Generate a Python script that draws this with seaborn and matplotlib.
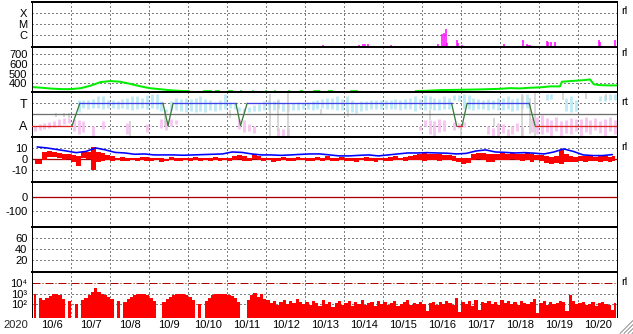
import numpy as np
import matplotlib
matplotlib.use('Agg')
import matplotlib.pyplot as plt
import seaborn as sns
from matplotlib.lines import Line2D

sns.set_theme(style='white')
plt.rcParams['font.family'] = ['Liberation Sans', 'DejaVu Sans']

# ---------------- data ----------------
year_label = '2020'
day_labels = ['10/6', '10/7', '10/8', '10/9', '10/10', '10/11', '10/12', '10/13',
              '10/14', '10/15', '10/16', '10/17', '10/18', '10/19', '10/20']

# X-ray flare bars (days since 10/6 00UT, log10 flux W/m2)
xray_t = [7.46, 8.38, 8.47, 8.53, 8.62, 9.16, 9.21, 10.41, 10.51, 10.55, 10.62, 10.64,
          10.88, 10.91, 11.02, 12.10, 12.55, 12.59, 12.68, 12.72, 12.76, 13.19, 13.22,
          13.29, 13.41, 14.54, 14.56, 14.95]
xray_log = [-6.91, -6.88, -6.79, -6.79, -6.79, -7.0, -6.91, -6.82, -5.91, -5.82, -5.48,
            -6.70, -6.45, -6.73, -6.88, -6.82, -7.0, -6.45, -6.82, -6.88, -6.94, -6.57,
            -6.64, -6.64, -6.64, -6.45, -6.64, -6.45]
xray_levels = [1e-6, 1e-5, 1e-4]
xray_names = ['C', 'M', 'X']

# solar wind speed (km/s); nan = gap
nan = np.nan
speed_t = [0.0, 0.25, 0.5, 0.75, 1.0, 1.25, 1.5, 1.75, 2.0, 2.25, 2.5, 2.75, 3.0, 3.25,
           3.5, 3.75, 4.04, 4.1, 4.38, 4.61, 4.64, 4.68, 4.81, 4.9, 5.02, 5.15, 5.2,
           5.33, 5.38, 5.5, 5.64, 5.68, 5.8, 5.97, 6.02, 6.1, 6.2, 6.24, 6.4, 6.56, 6.61,
           6.7, 6.86, 6.94, 7.0, 7.2, 7.38, 7.45, 7.58, 7.71, 7.9, 8.15, 8.35, 8.5, 9.81,
           10.07, 10.45, 10.96, 11.48, 11.99, 12.25, 12.5, 12.76, 13.02, 13.28, 13.53,
           13.58, 13.92, 14.17, 14.3, 14.4, 14.56, 14.81, 15.0]
speed_v = [362, 355, 346, 341, 341, 351, 377, 413, 424, 417, 396, 372, 351, 341,
           331, 323, 320, nan, 320, 320, nan, 320, 320, nan, 320, 320, nan,
           320, 320, nan, 320, 320, nan, 320, 320, nan, 320, 320, nan, 320, 320,
           nan, 320, 320, nan, 320, 320, nan, 320, 320, nan, 320, 320, nan, 320,
           323, 331, 334, 338, 344, 351, 348, 355, 359, 369, 369,
           417, 427, 434, 441, 390, 382, 379, 379]
speed_ticks = [400, 500, 600, 700]

# IMF sector: +1 toward, -1 away
sector_t = [0.0, 1.02, 1.22, 3.35, 3.48, 3.61, 5.22, 5.34, 5.51, 10.75, 10.88, 11.02,
            11.15, 12.74, 12.89, 15.0]
sector_v = [-1, -1, 1, 1, -1, 1, 1, -1, 1, 1, -1, -1, 1, 1, -1, -1]

# IMF direction scatter ranges, 3-hourly (sector units)
toward_lo = [nan]*8 + [nan, 0.2, 0.55, 0.5, 0.6, 0.6, 0.5, 0.6,
             0.6, 0.5, 0.6, 0.5, 0.4, 0.5, 0.6, 0.5,
             0.6, 0.5, 0.3, 0.2, 0.4, 0.4, 0.3, 0.2,
             0.3, 0.2, 0.3, 0.2, 0.4, 0.3, 0.4, 0.5,
             0.6, 0.5, 0.3, 0.2, 0.2, 0.3, 0.3, 0.4,
             0.4, 0.4, 0.5, 0.3, 0.3, 0.4, 0.4, 0.5,
             0.5, 0.4, 0.5, 0.6, 0.5, 0.5, 0.4, 0.4,
             0.3, 0.2, 0.1, 0.3, 0.4, 0.5, 0.5, 0.5,
             0.5, 0.5, 0.5, 0.4, 0.5, 0.5, 0.3, 0.5,
             0.4, 0.5, 0.4, 0.4, 0.5, 0.5, 1.3, 1.2,
             0.5, 0.5, 0.4, 0.5, 0.5, 0.4, 0.5, 0.4,
             0.4, 0.5, 0.3, 0.4, 0.5, 0.6, nan, nan,
             nan, 1.3, 1.4, nan, nan, 0.3, 0.2, 0.3,
             nan, nan, nan, nan, 1.2, 1.2, 1.3, 1.3]
toward_hi = [nan]*8 + [nan, 1.3, 1.3, 1.3, 1.4, 1.6, 1.6, 1.3,
             1.3, 1.2, 1.4, 1.5, 1.6, 1.6, 1.5, 1.7,
             1.8, 1.8, 1.2, 0.5, 1.2, 1.5, 1.4, 1.5,
             1.4, 1.5, 1.6, 1.4, 1.3, 1.1, 1.3, 1.8,
             1.1, 1.0, 0.7, 0.6, 0.7, 0.8, 0.9, 1.2,
             1.3, 1.2, 1.4, 1.0, 0.9, 1.0, 1.1, 1.0,
             1.1, 1.2, 1.3, 1.4, 1.5, 1.5, 1.6, 1.4,
             1.6, 1.3, 1.0, 1.2, 1.2, 1.3, 1.3, 1.3,
             1.3, 1.3, 1.4, 1.3, 1.4, 1.5, 1.6, 1.4,
             1.7, 1.6, 1.5, 1.4, 1.6, 1.5, 1.7, 1.7,
             1.8, 1.7, 1.5, 1.4, 1.3, 1.4, 1.3, 1.5,
             1.5, 1.6, 1.4, 1.5, 1.7, 1.8, nan, nan,
             nan, 1.8, 1.8, nan, nan, 1.5, 1.6, 1.3,
             nan, nan, nan, nan, 1.6, 1.7, 1.8, 1.8]
away_lo = [-1.5, -1.4, -1.3, -1.2, -1.1, -1.0, -0.9, -0.8,
           -1.5, -1.8, -1.6, nan, -1.9, nan, -1.3, nan,
           nan, nan, nan, -1.8, nan, nan, nan, -1.6,
           nan, nan, -1.2, -1.4, -1.0, -0.9, nan, nan,
           nan, nan, nan, nan, nan, nan, nan, nan,
           nan, nan, -1.3, -1.6, -1.5, -1.7, nan, nan,
           nan, nan, -2.0, -2.0, -1.9, nan, nan, nan,
           nan, nan, nan, nan, nan, nan, nan, nan,
           nan, nan, nan, nan, nan, nan, nan, nan,
           nan, nan, nan, nan, nan, nan, nan, -1.4,
           -1.0, -1.8, -1.9, -1.6, -1.5, nan, -1.4, -1.2,
           -1.1, nan, nan, nan, nan, -1.8, -2.0, -1.9,
           -1.7, -2.0, -1.8, -1.5, -1.9, nan, -1.6, -1.8,
           -1.8, -1.6, -1.9, -1.5, -2.0, -1.7, -1.8, -1.5,
           -1.9, -1.6, -1.8, -1.4, -1.7, -1.9, -1.5, -1.8]
away_hi = [-1.0, -0.9, -0.8, -0.7, -0.6, -0.4, -0.3, -0.3,
           -0.4, -0.5, -0.6, nan, -1.0, nan, -0.6, nan,
           nan, nan, nan, -0.8, nan, nan, nan, -0.9,
           nan, nan, -0.4, -0.5, -0.4, -0.5, nan, nan,
           nan, nan, nan, nan, nan, nan, nan, nan,
           nan, nan, -0.4, -0.5, -0.9, -1.0, nan, nan,
           nan, nan, -1.2, -1.3, -1.2, nan, nan, nan,
           nan, nan, nan, nan, nan, nan, nan, nan,
           nan, nan, nan, nan, nan, nan, nan, nan,
           nan, nan, nan, nan, nan, nan, nan, -1.0,
           -0.5, -0.5, -0.6, -0.4, -0.5, nan, -0.7, -0.8,
           -0.7, nan, nan, nan, nan, -1.0, -1.2, -0.8,
           -0.9, -1.3, -1.0, -0.8, -1.1, nan, -0.3, -0.2,
           -0.1, -0.3, -0.5, -0.2, -0.6, -0.5, -0.3, -0.4,
           -0.4, -0.2, -0.5, -0.3, -0.6, -0.4, -0.2, -0.5]
grey_t = [0.6, 0.8, 0.95, 2.5, 3.4, 5.07, 6.1, 6.3, 6.55, 7.4, 8.1, 10.2, 10.98,
          11.85, 12.55, 12.75, 12.9, 13.6, 14.2, 14.7]
grey_lo = [-0.2, -0.25, -0.3, -2.0, -1.0, -0.3, -2.0, -1.5, -2.0, -0.1, -0.2, -0.5,
           -1.9, -1.0, -2.0, -1.8, -2.0, 1.3, 1.4, 1.3]
grey_hi = [0.1, 0.15, 0.1, -0.6, 0.4, 0.4, 1.8, 1.2, 1.9, 0.5, 0.4, 0.4,
           -1.0, -0.3, 1.8, 1.5, 1.9, 1.9, 1.9, 1.8]

# IMF Bt (nT), 6-hourly
bt = [11.2, 10.3, 8.9, 7.5, 6.0, 7.1, 10.3, 8.5, 6.2, 5.7, 4.5, 4.8, 3.9, 3.9, 3.9,
      3.6, 3.9, 4.2, 4.5, 4.8, 6.6, 6.2, 4.8, 3.9, 3.9, 3.5, 3.9, 4.4, 4.8, 4.8,
      3.9, 3.0, 3.0, 3.5, 3.9, 3.0, 3.9, 4.8, 5.7, 5.7, 6.0, 5.7, 5.5, 4.8, 5.3,
      7.5, 8.5, 6.6, 6.2, 5.7, 6.0, 5.5, 4.8, 6.6, 9.4, 7.1, 3.9, 3.3, 3.3, 4.2]
# IMF Bz range (nT), 3-hourly
bz_lo = [-4.5, -4, -1, 2, 2, 1, -0.5, 0, -3, -6, 1, 0, -9.7, -3, -2, -1,
         -2, -1, -1.5, -2, -1, -2, -1, -1.5, -2, -1, -2.5, -2, -1, -1.5, -2, -1,
         -2, -1, -1.5, -1, -2, -1, -1.5, -1, -1.5, -1, 0, -1.5, -2, 0, -1, -2,
         -1, -2.5, -1.5, -1, -1.5, -2, -1, -1, -1.5, -2, -1, -1.5, -1, -2, -1.5, -1,
         -1.5, -2, -2.5, -1, -2, -1.5, -2.5, -1, -2, -1.5, -1, -1, -2, -1, -0.5, -1,
         -1.5, -1, -1, -2, -1, -1, -2, -3, -4.5, -3.5, -0.5, 0, -1, -3, -2.5, -1,
         -1, -1, 0, -1, -2, -1, -2.5, -1, -2, -3.5, -4.5, -3.5, -4.5, -2.5, -3, -2.5,
         -2, -2.2, -1.5, -2, -2.2, -1.5, -2.5, -2]
bz_hi = [-1, -1, 7, 7.5, 6.5, 6, 5, 5, 4, 3, 6.5, 7, 11, 7, 6, 4,
         2.5, 1.5, 2, 1, 1.5, 1, 2, 2, 1, 1.5, 1, 0.5, 2, 1.5, 1, 1.5,
         1, 2, 1.5, 1, 1.5, 2, 1.5, 1.5, 1.5, 2.5, 4, 2.5, 1.5, 4.5, 2.5, 1.5,
         1.5, 1, 1.5, 2, 1.5, 1, 2, 1.5, 1.5, 1, 2, 1.5, 2.5, 1.5, 1, 2,
         1.5, 1.5, 1, 1.5, 2, 1.5, 1, 1.5, 1.5, 2, 2.5, 1.5, 2, 2.5, 3.5, 4.5,
         6, 5, 4.5, 4.5, 4, 3.5, 2.5, 1.5, 1, 1.5, 5, 6, 5.5, 4.5, 5, 4.5,
         5.5, 5, 5.5, 5, 4.5, 5.5, 4.5, 4, 3.5, 2.5, 2, 2.5, 8.5, 4.5, 2.5, 2,
         2.5, 2.5, 2.5, 2, 2.5, 2.5, 2, 2.5]

# electron flux, log10 (2-hourly)
flux_log = [3.0, 0.5, 2.6, 2.4, 2.6, 2.8, 2.95, 2.95, 2.85, 2.5, 0.5, 2.3,
            0.5, 2.0, 0.5, 2.4, 2.6, 2.9, 3.2, 3.55, 3.2, 3.0, 2.9, 2.7,
            2.5, 0.5, 2.3, 0.5, 2.2, 2.5, 2.7, 2.85, 2.95, 3.0, 2.95, 2.85,
            2.6, 2.3, 0.5, 0.5, 2.2, 2.5, 2.7, 2.85, 2.95, 3.0, 2.95, 2.9,
            2.7, 2.4, 0.5, 2.0, 0.5, 2.3, 2.6, 2.85, 2.95, 3.0, 3.0, 2.95,
            2.9, 2.8, 2.6, 2.2, 0.5, 0.5, 2.4, 2.9, 3.1, 2.7, 2.95, 2.5,
            2.4, 2.1, 2.3, 1.9, 2.2, 2.4, 2.0, 2.3, 2.1, 2.5, 2.2, 2.0,
            2.2, 1.9, 2.3, 2.1, 1.8, 2.4, 2.0, 2.2, 1.7, 2.1, 2.3, 1.9,
            2.1, 2.3, 1.8, 2.2, 2.0, 2.4, 1.9, 2.1, 2.2, 1.8, 2.3, 2.0,
            2.2, 1.9, 2.1, 2.3, 1.8, 2.0, 2.2, 2.4, 1.9, 2.1, 2.0, 2.2,
            2.0, 1.4, 2.1, 2.2, 1.9, 2.2, 2.0, 2.3, 2.1, 1.9, 2.6, 1.3,
            2.2, 2.0, 2.3, 1.8, 2.4, 1.5, 2.2, 2.1, 2.3, 2.0, 2.2, 1.9,
            2.4, 2.1, 2.3, 2.0, 2.2, 1.9, 2.3, 2.1, 2.0, 2.2, 2.5, 1.2,
            2.1, 2.3, 1.9, 2.2, 2.0, 2.1, 2.3, 2.2, 1.4, 2.9, 2.3, 2.0,
            2.1, 2.2, 1.9, 2.0, 2.2, 1.8, 2.1, 2.2, 2.0, 1.9, 1.5, 2.1]

# ---------------- figure ----------------
W, H = 633, 334
fig = plt.figure(figsize=(W / 100, H / 100), dpi=100)
fig.patch.set_facecolor('white')
gs = fig.add_gridspec(7, 1, left=32.3 / W, right=617.3 / W, top=1 - 2.3 / H,
                      bottom=1 - 316.7 / H, hspace=0)
axes = [fig.add_subplot(gs[i]) for i in range(7)]

DOT = (0, (1, 3))
PX = 0.72
DKRED = '#aa0000'

for ax in axes:
    ax.set_facecolor('white')
    ax.set_xlim(0, 15)
    ax.set_xticks([])
    for s in ['left', 'right']:
        ax.spines[s].set_linewidth(1.0 * PX)
        ax.spines[s].set_color('black')
    for s in ['top', 'bottom']:
        ax.spines[s].set_linewidth(2.0 * PX)
        ax.spines[s].set_color('black')
    ax.tick_params(axis='y', length=0, labelsize=8, pad=3.5, colors='black')
    ax.grid(False)
    for d in range(1, 15):
        ax.axvline(d, color='black', ls=DOT, lw=PX, zorder=0.5)

def hdots(ax, levels):
    for lv in levels:
        ax.axhline(lv, color='black', ls=DOT, lw=PX, zorder=0.5)

def side_label(ax, level, txt):
    ax.annotate(txt, xy=(1, level), xycoords=('axes fraction', 'data'),
                xytext=(3, 1.2), textcoords='offset points', va='center',
                ha='left', fontsize=8, color='black')

# 1: X-ray
ax = axes[0]
ax.set_yscale('log')
ax.set_ylim(10 ** -7.12, 10 ** -3.03)
ax.vlines(xray_t, 10 ** -7.12, 10 ** np.array(xray_log), colors='#ff00ff',
          lw=1.5 * PX, zorder=2)
hdots(ax, xray_levels)
ax.set_yticks(xray_levels)
ax.set_yticklabels(xray_names)
ax.yaxis.set_minor_locator(matplotlib.ticker.NullLocator())
side_label(ax, 1e-4, 'rl')

# 2: solar wind speed
ax = axes[1]
ax.set_ylim(310, 772)
hdots(ax, speed_ticks)
ax.plot(speed_t, speed_v, color='#00ee00', lw=2.0 * PX, zorder=2,
        solid_capstyle='butt')
ax.set_yticks(speed_ticks)
ax.set_yticklabels([str(v) for v in speed_ticks])
side_label(ax, 700, 'rl')

# 3: IMF sector
ax = axes[2]
ax.set_ylim(-2.03, 1.99)
hdots(ax, [1, -1])
t3 = (np.arange(120) + 0.5) * 0.125
ax.vlines(t3, toward_lo, toward_hi, colors='#bdeaf7', lw=2.8 * PX, zorder=1)
ax.vlines(t3, away_lo, away_hi, colors='#f8c4f2', lw=2.8 * PX, zorder=1)
ax.vlines(grey_t, grey_lo, grey_hi, colors='#cccccc', lw=1.5 * PX, zorder=1)
ax.axhline(0, color='#707070', lw=1.3 * PX, zorder=2)
for i in range(len(sector_t) - 1):
    a, b = sector_v[i], sector_v[i + 1]
    col = '#4040e8' if (a == b == 1) else ('#dd2222' if a == b == -1 else '#3a7a3a')
    ax.plot(sector_t[i:i + 2], sector_v[i:i + 2], color=col, lw=1.3 * PX, zorder=3)
ax.set_yticks([1, -1])
ax.set_yticklabels(['T', 'A'], fontsize=9)
side_label(ax, 1, 'rt')

# 4: IMF Bt / Bz
ax = axes[3]
ax.set_ylim(-20.9, 20.3)
hdots(ax, [10, -10])
ax.axhline(0, color=DKRED, lw=1.3 * PX, zorder=1.5)
t4 = (np.arange(120) + 0.5) * 0.125
ax.fill_between(t4, bz_lo, bz_hi, step='mid', color='#ff0000', lw=0, zorder=2)
t6 = (np.arange(60) + 0.5) * 0.25
sns.lineplot(x=t6, y=bt, ax=ax, color='#0000ff', lw=1.6 * PX, zorder=3)
ax.set_xlim(0, 15)
ax.set_xlabel('')
ax.set_ylabel('')
ax.set_xticks([])
ax.set_yticks([10, 0, -10])
ax.set_yticklabels(['10', '0', '-10'])
side_label(ax, 10, 'rl')

# 5: Dst
ax = axes[4]
ax.set_ylim(-208, 104)
hdots(ax, [-100])
ax.axhline(0, color=DKRED, lw=1.3 * PX, zorder=1.5)
ax.set_yticks([0, -100])
ax.set_yticklabels(['0', '-100'])

# 6: empty index panel
ax = axes[5]
ax.set_ylim(-2.1, 80.3)
hdots(ax, [20, 40, 60])
ax.set_yticks([60, 40, 20])
ax.set_yticklabels(['60', '40', '20'])

# 7: electron flux
ax = axes[6]
ax.set_yscale('log')
ax.set_ylim(10 ** 0.82, 10 ** 5.08)
hdots(ax, [1e2, 1e3])
ax.axhline(1e4, color=DKRED, ls=(0, (8, 2, 1, 2)), lw=PX, zorder=1.5)
t7 = (np.arange(180) + 0.5) / 12.0
ax.fill_between(t7, 10 ** 0.5, 10 ** np.array(flux_log), step='mid',
                color='#ff0000', lw=0, zorder=2)
ax.set_yticks([1e4, 1e3, 1e2])
ax.set_yticklabels(['10\u2074', '10\u00b3', '10\u00b2'], fontsize=8)
ax.yaxis.set_minor_locator(matplotlib.ticker.NullLocator())
ax.spines['bottom'].set_visible(False)
ax.set_xticks(np.arange(15) + 0.5)
ax.set_xticklabels(day_labels, fontsize=8)
ax.tick_params(axis='x', length=0, pad=2.6, colors='black')
side_label(ax, 1e4, 'rl')

fig.text(16 / W, 1 - 325 / H, year_label, fontsize=8, ha='center', va='center')

# window resize grip
for off in [0, 4, 8, 12]:
    fig.add_artist(Line2D([(620 + off) / W, 633 / W],
                          [1 - 333.5 / H, 1 - (333.5 - (13 - off)) / H],
                          transform=fig.transFigure, color='#909090', lw=PX))

fig.savefig('out.png', dpi=100)
